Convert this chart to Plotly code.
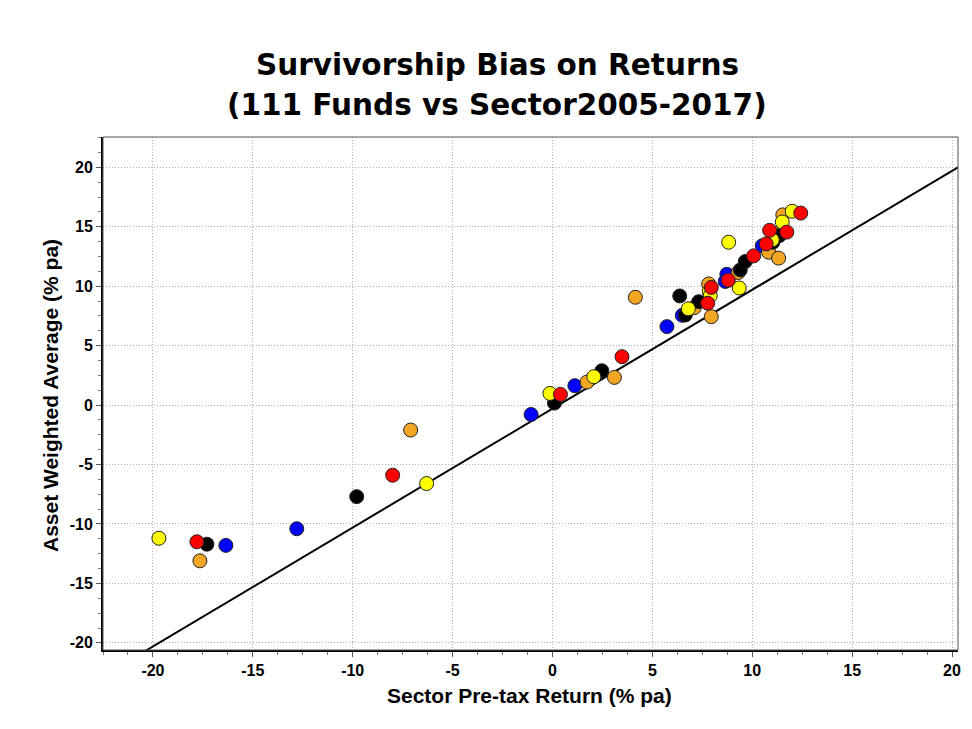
import plotly.graph_objects as go

# Data (Sector pre-tax return, asset weighted average), % pa
blue_x = [-16.35, -12.8, -1.07, 1.12, 5.73, 6.5, 8.73, 8.65, 10.5]
blue_y = [-11.8, -10.4, -0.79, 1.63, 6.6, 7.55, 11.0, 10.4, 13.4]

orange_x = [-17.65, -7.1, 1.73, 3.1, 4.15, 7.1, 7.82, 7.95, 9.3, 10.82, 11.32, 11.53, 11.25]
orange_y = [-13.1, -2.1, 1.94, 2.33, 9.07, 8.2, 10.19, 7.44, 11.15, 12.86, 12.36, 16.0, 14.45]

black_x = [-17.3, -9.8, 0.1, 2.47, 6.37, 6.65, 7.32, 9.4, 9.65, 11.03, 11.35]
black_y = [-11.7, -7.7, 0.17, 2.89, 9.18, 7.58, 8.7, 11.37, 12.07, 13.7, 14.25]

yellow_x = [-19.7, -6.3, -0.13, 2.07, 6.8, 7.85, 7.9, 8.82, 9.35, 11.0, 11.5, 12.0]
yellow_y = [-11.2, -6.6, 0.98, 2.39, 8.1, 9.55, 9.2, 13.7, 9.85, 13.9, 15.4, 16.3]

red_x = [-17.8, -8.0, 0.4, 3.48, 7.77, 7.95, 8.8, 10.07, 10.7, 10.87, 11.73, 12.43]
red_y = [-11.5, -5.9, 0.9, 4.07, 8.57, 9.9, 10.5, 12.55, 13.56, 14.7, 14.55, 16.15]

# reference line
line_x = [-22.5, 20.3]
line_y = [-22.8, 20.0]

x_ticks = [-20, -15, -10, -5, 0, 5, 10, 15, 20]
x_ticktext = ["-20", "-15", "-10", "-5", "0", "5", "10", "15", "20"]
y_ticks = [-20, -15, -10, -5, 0, 5, 10, 15, 20]
y_ticktext = ["-20", "-15", "-10", "-5", "0", "5", "10", "15", "20"]

title_lines = ["Survivorship Bias on Returns", "(111 Funds vs Sector2005-2017)"]
x_title = "Sector Pre-tax Return (% pa)"
y_title = "Asset Weighted Average (% pa)"

fig = go.Figure()

fig.add_trace(go.Scatter(x=line_x, y=line_y, mode="lines",
                         line=dict(color="black", width=2), showlegend=False,
                         hoverinfo="skip"))

series = [
    ("Blue", blue_x, blue_y, "#0000FF"),
    ("Orange", orange_x, orange_y, "#F2A623"),
    ("Black", black_x, black_y, "#000000"),
    ("Yellow", yellow_x, yellow_y, "#FFFF00"),
    ("Red", red_x, red_y, "#FF0000"),
]
for name, xs, ys, col in series:
    fig.add_trace(go.Scatter(x=xs, y=ys, mode="markers", name=name,
                             marker=dict(size=14, color=col,
                                         line=dict(color="#222222", width=1)),
                             showlegend=False))

axis_common = dict(
    showgrid=True, gridcolor="#B0B0B0", griddash="1px,2px", gridwidth=1,
    zeroline=False, showline=True, linecolor="black", linewidth=2,
    ticks="outside", ticklen=5, tickcolor="#555555", tickwidth=1,
    automargin=False,
    tickfont=dict(family="Liberation Sans, Arial", size=16, color="black", weight="bold"),
    minor=dict(dtick=1.25, ticks="outside", ticklen=3, tickcolor="#777777", showgrid=False),
)

bold = dict(color="black", weight="bold")
annotations = [
    dict(text=title_lines[0], x=0.461, y=1.140, xref="paper", yref="paper",
         showarrow=False, xanchor="center", yanchor="middle",
         font=dict(family="DejaVu Sans", size=29.5, **bold)),
    dict(text=title_lines[1], x=0.461, y=1.062, xref="paper", yref="paper",
         showarrow=False, xanchor="center", yanchor="middle",
         font=dict(family="DejaVu Sans", size=29.5, **bold)),
    dict(text=x_title, x=0.499, y=-0.088, xref="paper", yref="paper",
         showarrow=False, xanchor="center", yanchor="middle",
         font=dict(family="Liberation Sans, Arial", size=21, **bold)),
    dict(text=y_title, x=-0.062, y=0.497, xref="paper", yref="paper", textangle=-90,
         showarrow=False, xanchor="center", yanchor="middle",
         font=dict(family="Liberation Sans, Arial", size=21, **bold)),
]

fig.update_layout(
    width=972, height=729,
    paper_bgcolor="white", plot_bgcolor="white",
    margin=dict(l=103, r=14, t=137, b=79, autoexpand=False),
    xaxis=dict(range=[-22.5, 20.3], tickvals=x_ticks, ticktext=x_ticktext, **axis_common),
    yaxis=dict(range=[-20.6, 22.55], tickvals=y_ticks, ticktext=y_ticktext, **axis_common),
    annotations=annotations,
    shapes=[dict(type="rect", xref="paper", yref="paper", x0=0, x1=1, y0=0, y1=1,
                 line=dict(color="#555555", width=1), fillcolor="rgba(0,0,0,0)", layer="above")],
)

fig.write_html("out.html", config={"displayModeBar": False},
               post_script="document.body.style.margin='0';")
